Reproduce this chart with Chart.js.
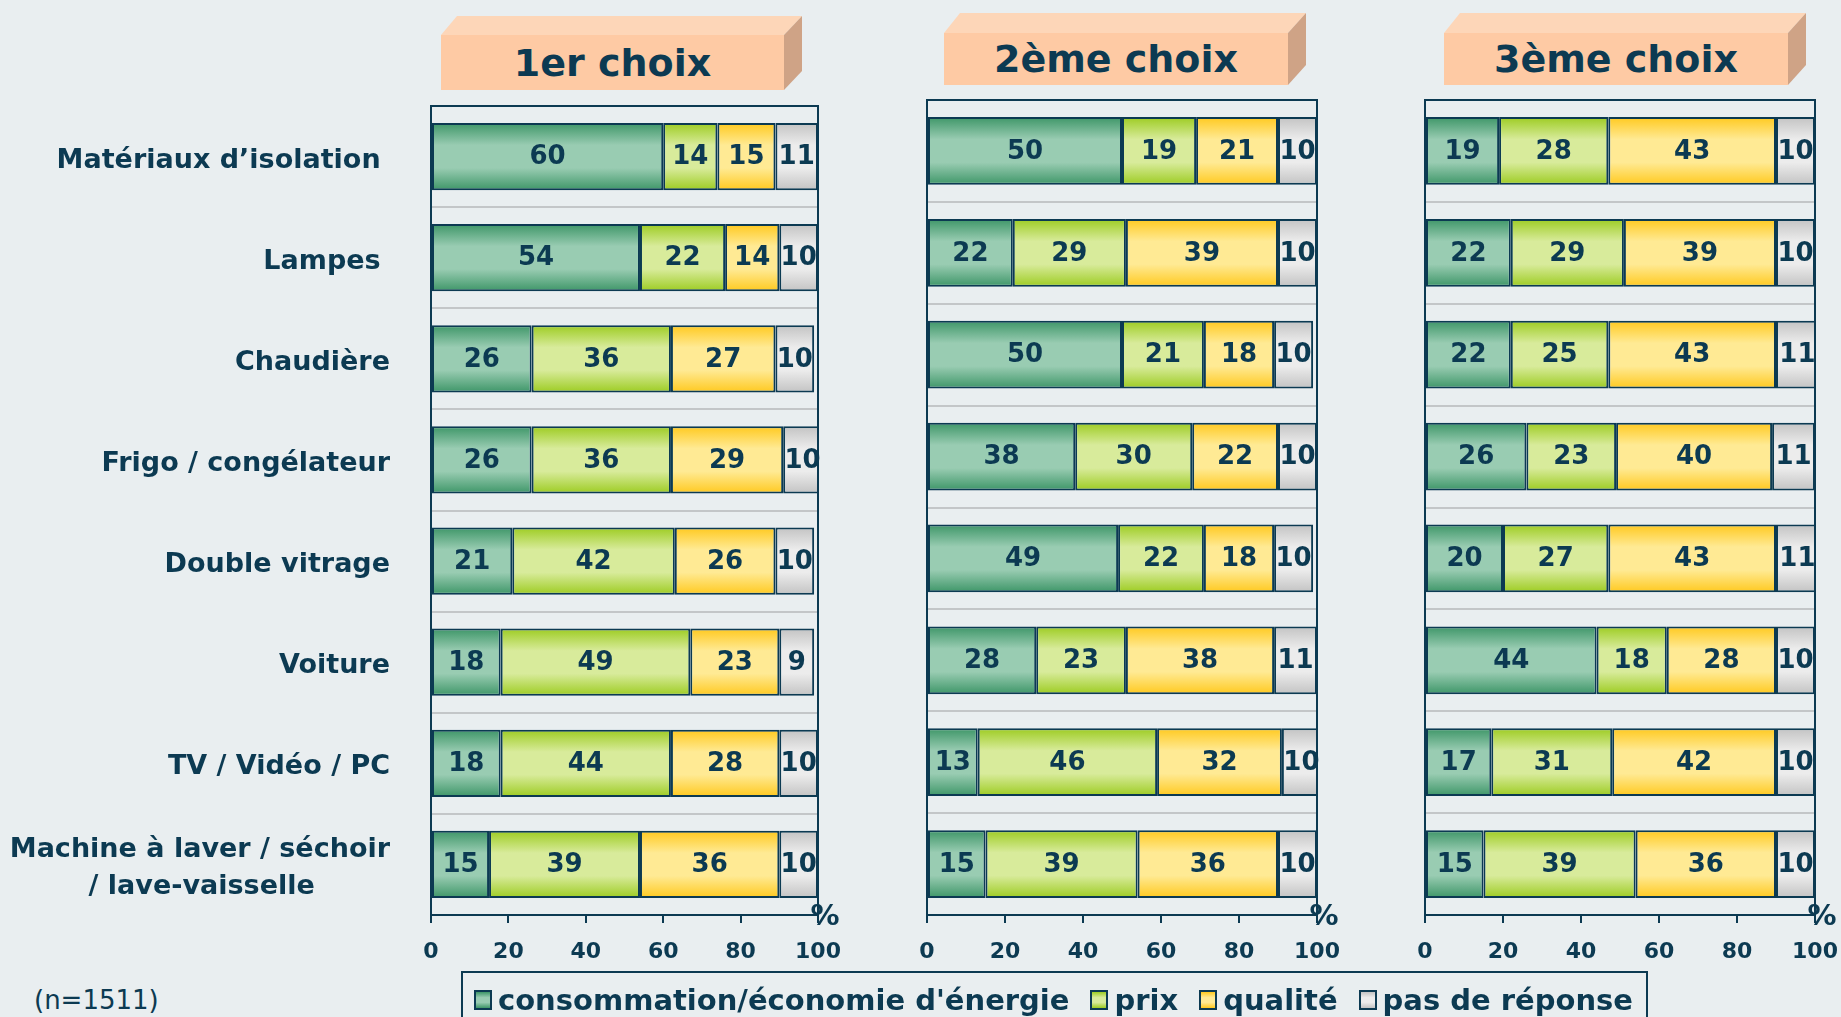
<!DOCTYPE html>
<html><head><meta charset="utf-8">
<script src="https://cdn.jsdelivr.net/npm/chart.js@4.4.1/dist/chart.umd.min.js"></script>
<style>
html,body{margin:0;padding:0;width:1841px;height:1017px;overflow:hidden;background:#e9eef0;font-family:"DejaVu Sans",sans-serif;color:#0c3a52}
canvas{position:absolute}
.ttl{position:absolute;display:flex;align-items:center;justify-content:center;font-weight:bold;font-size:38px;color:#0c3a52;white-space:nowrap}
#legend{position:absolute;left:461px;top:971px;width:1187px;height:60px;border:2px solid #0c3a52;box-sizing:border-box;display:flex;align-items:flex-start;padding:9px 0 0 11px;gap:21px;font-weight:bold;font-size:29px;line-height:36px;white-space:nowrap}
#legend .it{display:flex;align-items:center;gap:6px}
#legend .sw{display:inline-block;width:18px;height:20px;border:2px solid #0c3a52;box-sizing:border-box}
#note{position:absolute;left:34px;top:984px;font-size:26px;line-height:32px;color:#0c3a52}
</style></head><body>
<svg id="boxes" width="1841" height="100" style="position:absolute;left:0;top:0"></svg>
<div id="titles"></div>
<canvas id="c1" width="858" height="920" style="left:0px;top:60px"></canvas>
<canvas id="c2" width="450" height="920" style="left:907px;top:60px"></canvas>
<canvas id="c3" width="436" height="920" style="left:1405px;top:60px"></canvas>
<div id="legend"></div>
<div id="note">(n=1511)</div>
<script>
// ---------- DATA ----------
const categories = [
  'Matériaux d’isolation ',
  'Lampes ',
  'Chaudière',
  'Frigo / congélateur',
  'Double vitrage',
  'Voiture',
  'TV / Vidéo / PC',
  ['Machine à laver / séchoir', '/ lave-vaisselle        ']
];
const seriesNames = ["consommation/économie d'énergie", 'prix', 'qualité', 'pas de réponse'];
const panelTitles = ['1er choix', '2ème choix', '3ème choix'];
const xTickMin = 0, xTickMax = 100, xTickStep = 20;
const axisUnit = '%';

const choix1_conso   = [60, 54, 26, 26, 21, 18, 18, 15];
const choix1_prix    = [14, 22, 36, 36, 42, 49, 44, 39];
const choix1_qualite = [15, 14, 27, 29, 26, 23, 28, 36];
const choix1_nr      = [11, 10, 10, 10, 10,  9, 10, 10];

const choix2_conso   = [50, 22, 50, 38, 49, 28, 13, 15];
const choix2_prix    = [19, 29, 21, 30, 22, 23, 46, 39];
const choix2_qualite = [21, 39, 18, 22, 18, 38, 32, 36];
const choix2_nr      = [10, 10, 10, 10, 10, 11, 10, 10];

const choix3_conso   = [19, 22, 22, 26, 20, 44, 17, 15];
const choix3_prix    = [28, 29, 25, 23, 27, 18, 31, 39];
const choix3_qualite = [43, 39, 43, 40, 43, 28, 42, 36];
const choix3_nr      = [10, 10, 11, 11, 11, 10, 10, 10];

const panelData = [
  [choix1_conso, choix1_prix, choix1_qualite, choix1_nr],
  [choix2_conso, choix2_prix, choix2_qualite, choix2_nr],
  [choix3_conso, choix3_prix, choix3_qualite, choix3_nr]
];

// ---------- STYLE / LAYOUT ----------
const NAVY = '#0c3a52';
const FONT = '"DejaVu Sans", sans-serif';
const BAR_PCT = 0.665;
const seriesColors = [
  {edge: '#3e9668', mid: '#99ccb2'},
  {edge: '#9dcc22', mid: '#d8eb9b'},
  {edge: '#ffc91f', mid: '#ffea94'},
  {edge: '#c3c3c3', mid: '#ececec'}
];
const panels = [
  {id: 'c1', padTop: 46, yWidth: 431, padRight: 40, showY: true},
  {id: 'c2', padTop: 40, yWidth: 20, padRight: 40, showY: false},
  {id: 'c3', padTop: 40, yWidth: 20, padRight: 26, showY: false}
];
const titleBoxes = [
  {l: 441, t: 35, r: 784, b: 90, dx: 18, dy: 19},
  {l: 944, t: 33, r: 1288, b: 85, dx: 18, dy: 20},
  {l: 1444, t: 33, r: 1788, b: 85, dx: 18, dy: 20}
];

// titles (3D boxes)
(function(){
  const svg = document.getElementById('boxes');
  const tdiv = document.getElementById('titles');
  let s = '';
  titleBoxes.forEach((b, i) => {
    s += `<polygon points="${b.l},${b.t} ${b.l+b.dx-2},${b.t-b.dy} ${b.r+b.dx},${b.t-b.dy} ${b.r},${b.t}" fill="#fdd6b8"/>`;
    s += `<polygon points="${b.r},${b.t} ${b.r+b.dx},${b.t-b.dy} ${b.r+b.dx},${b.b-b.dy} ${b.r},${b.b}" fill="#cfa386"/>`;
    s += `<rect x="${b.l}" y="${b.t}" width="${b.r-b.l}" height="${b.b-b.t}" fill="#fecaa4"/>`;
    const d = document.createElement('div');
    d.className = 'ttl';
    d.style.left = b.l + 'px'; d.style.top = b.t + 'px';
    d.style.width = (b.r - b.l) + 'px'; d.style.height = (b.b - b.t) + 'px';
    d.textContent = panelTitles[i];
    tdiv.appendChild(d);
  });
  svg.innerHTML = s;
})();

// legend
(function(){
  const lg = document.getElementById('legend');
  seriesNames.forEach((n, i) => {
    const it = document.createElement('span'); it.className = 'it';
    const sw = document.createElement('span'); sw.className = 'sw';
    const c = seriesColors[i];
    sw.style.background = `linear-gradient(to bottom, ${c.edge} 0%, ${c.mid} 35%, ${c.mid} 65%, ${c.edge} 100%)`;
    const tx = document.createElement('span'); tx.textContent = n;
    it.appendChild(sw); it.appendChild(tx); lg.appendChild(it);
  });
})();

function barGradient(i){
  return function(ctx){
    const chart = ctx.chart, ca = chart.chartArea;
    const col = seriesColors[i];
    if (!ca || !chart.scales || !chart.scales.y) return col.mid;
    chart.$grad = chart.$grad || {};
    if (chart.$grad[i]) return chart.$grad[i];
    const ys = chart.scales.y;
    const top = ca.top, h = ca.bottom - ca.top;
    const g = chart.ctx.createLinearGradient(0, top, 0, ca.bottom);
    const n = categories.length;
    const th = h / n * BAR_PCT;
    const cl = v => Math.min(1, Math.max(0, v));
    for (let k = 0; k < n; k++) {
      const yc = ys.getPixelForValue(k);
      const a = yc - th / 2, b = yc + th / 2;
      g.addColorStop(cl((a - top) / h), col.edge);
      g.addColorStop(cl((a + 0.33 * th - top) / h), col.mid);
      g.addColorStop(cl((b - 0.33 * th - top) / h), col.mid);
      g.addColorStop(cl((b - top) / h), col.edge);
    }
    chart.$grad[i] = g;
    return g;
  };
}

const valueLabels = {
  id: 'valueLabels',
  afterDatasetsDraw(chart){
    const c = chart.ctx;
    c.save();
    c.font = 'bold 26px ' + FONT;
    c.fillStyle = NAVY; c.textAlign = 'center'; c.textBaseline = 'middle';
    chart.data.datasets.forEach((ds, di) => {
      chart.getDatasetMeta(di).data.forEach((el, j) => {
        const x = (el.x + el.base) / 2;
        c.fillText(String(ds.data[j]), x, el.y + 1);
      });
    });
    c.restore();
  }
};
const frame = {
  id: 'frame',
  afterDraw(chart){
    const c = chart.ctx, ca = chart.chartArea;
    c.save();
    c.strokeStyle = NAVY; c.lineWidth = 2;
    c.strokeRect(ca.left, ca.top, ca.right - ca.left, ca.bottom - ca.top);
    c.font = 'bold 29px ' + FONT;
    c.fillStyle = NAVY; c.textAlign = 'center'; c.textBaseline = 'middle';
    c.fillText(axisUnit, ca.right + 7, ca.bottom + 2);
    c.restore();
  }
};

panels.forEach((p, pi) => {
  new Chart(document.getElementById(p.id), {
    type: 'bar',
    data: {
      labels: categories,
      datasets: seriesNames.map((name, si) => ({
        label: name,
        data: panelData[pi][si],
        backgroundColor: barGradient(si),
        borderColor: NAVY,
        borderWidth: 2,
        borderSkipped: false,
        barPercentage: BAR_PCT,
        categoryPercentage: 1
      }))
    },
    options: {
      indexAxis: 'y',
      responsive: false,
      animation: false,
      layout: {padding: {top: p.padTop, right: p.padRight, bottom: 10, left: 0}},
      plugins: {legend: {display: false}, tooltip: {enabled: false}, title: {display: false}},
      scales: {
        x: {
          stacked: true, min: xTickMin, max: xTickMax,
          ticks: {stepSize: xTickStep, color: NAVY, font: {family: FONT, weight: 'bold', size: 22}, padding: 16, maxRotation: 0},
          grid: {drawOnChartArea: false, drawTicks: true, tickLength: 8, color: NAVY, lineWidth: 2},
          border: {color: NAVY, width: 2},
          afterFit(s){ s.height = 55; s.paddingLeft = 0; s.paddingRight = 0; }
        },
        y: {
          stacked: true,
          ticks: {display: p.showY, color: NAVY, font: {family: FONT, weight: 'bold', size: 27, lineHeight: 1.4}, padding: 41, autoSkip: false, labelOffset: 4},
          grid: {color: '#c3c6c8', lineWidth: 2, drawTicks: false},
          border: {color: NAVY, width: 2},
          afterFit(s){ s.width = p.yWidth; s.paddingTop = 0; s.paddingBottom = 0; }
        }
      }
    },
    plugins: [valueLabels, frame]
  });
});
</script>
</body></html>
